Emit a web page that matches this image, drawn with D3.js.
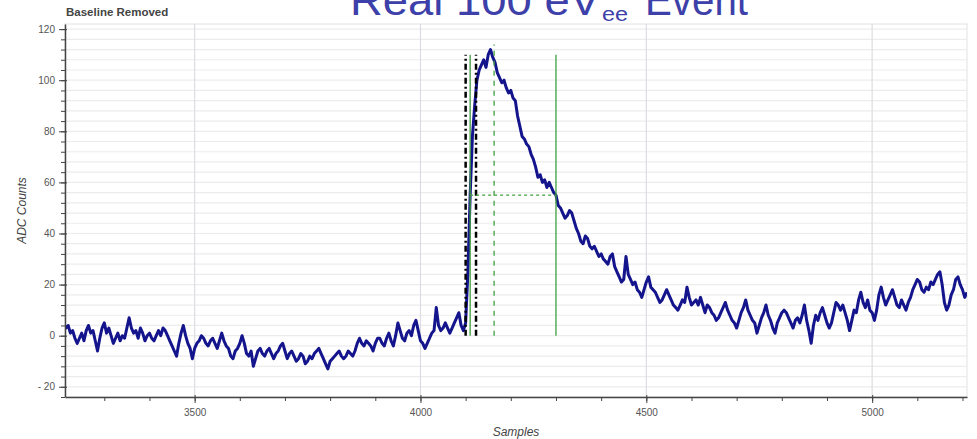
<!DOCTYPE html>
<html lang="en">
<head>
<meta charset="utf-8">
<title>Real 100 eVee Event</title>
<script src="https://d3js.org/d3.v7.min.js"></script>
<style>
  body { margin: 0; background: #fff; }
  .axis text { font-family: "Liberation Sans", Arial, sans-serif; font-size: 10px; fill: #555; }
  .axis path, .axis line { stroke: #444; }
</style>
</head>
<body>
<script>
// waveform: one value every 5 samples, starting at sample 3210
var sampleStart = 3210;
var sampleStep = 5;
var adcCounts = [
  5,3,4,1,2,-1,-3,-1,1,-2,2,4,1,2,-2,-6,-1,3,5,1,
  3,0,-3,-1,1,-2,0,-1,3,7,3,1,2,-1,3,1,-2,0,1,-1,
  -2,0,2,0,3,2,0,-2,-4,-6,-8,-3,1,4,0,-3,-5,-9,-5,-3,
  -2,0,-1,-3,-4,-2,-1,-3,-5,-2,1,-2,-4,-5,-8,-9,-6,-5,-3,0,
  -3,-7,-8,-6,-12,-9,-6,-5,-7,-8,-6,-5,-7,-9,-7,-6,-4,-3,-6,-9,
  -7,-6,-8,-10,-9,-7,-8,-11,-10,-8,-9,-7,-6,-5,-7,-9,-11,-13,-10,-9,
  -8,-7,-6,-8,-9,-8,-6,-7,-8,-6,-3,-1,-3,-4,-2,-3,-4,-6,-3,-1,
  -1,-3,-4,-1,1,-2,-4,0,5,2,-1,-2,1,2,0,4,6,2,-2,-3,
  -5,-3,-1,1,2,11,4,2,3,5,3,1,3,5,7,9,4,2,5,25,
  55,78,90,100,104,106,108,105,110,112,109,107,103,101,99,100,97,95,96,93,
  92,86,82,78,77,75,74,71,69,66,62,63,60,61,58,60,58,56,55,51,
  50,48,46,47,49,48,45,42,40,37,36,39,38,35,34,35,33,31,32,30,
  29,28,31,32,27,25,23,21,22,31,24,22,20,21,18,17,15,18,21,23,
  19,18,17,15,13,14,16,18,16,14,12,11,10,12,14,13,19,15,12,13,
  14,12,15,12,9,12,11,9,8,6,7,9,11,13,10,8,6,5,3,6,
  9,11,14,10,8,6,5,1,4,7,9,12,8,6,3,1,5,7,9,10,
  9,7,5,3,6,7,5,8,12,6,2,-3,4,8,6,9,11,8,5,3,
  5,9,13,12,10,12,9,6,2,6,10,9,14,17,13,11,14,10,9,6,
  10,16,19,15,12,14,16,18,15,12,11,14,12,10,13,15,18,20,22,21,
  18,17,19,18,21,20,22,24,25,20,13,10,12,16,18,22,23,20,18,15,17
];

var xTicks = [3500, 4000, 4500, 5000];
var yTicks = [-20, 0, 20, 40, 60, 80, 100, 120];

// pulse markers (sample positions and levels)
var dashDotMarks = [4100, 4123];
var solidMarks = [4110, 4300];
var peakSample = 4163;
var markTop = 110;
var peakTop = 114;
var halfLevel = 55;

var w = 977, h = 439;
var margin = {left: 65, right: 10, top: 24, bottom: 42};

var svg = d3.select("body").append("svg").attr("width", w).attr("height", h);

var xScale = d3.scaleLinear().domain([3213, 5210]).range([margin.left, w - margin.right]);
var yScale = d3.scaleLinear().domain([-24, 122]).range([h - margin.bottom, margin.top]);

var x0 = margin.left, x1 = w - margin.right, y0 = h - margin.bottom, y1 = margin.top;

// plot frame
svg.append("rect").attr("x", x0).attr("y", y1).attr("width", x1 - x0).attr("height", y0 - y1)
  .attr("fill", "#fff").attr("stroke", "#e2e2e2");

// grid: horizontal every 4, vertical at majors
var hGrid = d3.range(-20, 122, 4);
svg.append("g").selectAll("line").data(hGrid).enter().append("line")
  .attr("x1", x0).attr("x2", x1)
  .attr("y1", d => yScale(d)).attr("y2", d => yScale(d))
  .attr("stroke", "#ececec").attr("stroke-width", 1.2);
svg.append("g").selectAll("line").data(xTicks).enter().append("line")
  .attr("x1", d => xScale(d)).attr("x2", d => xScale(d))
  .attr("y1", y1).attr("y2", y0)
  .attr("stroke", "#dcdce3").attr("stroke-width", 1.2);

svg.append("clipPath").attr("id", "clip").append("rect")
  .attr("x", x0).attr("y", y1).attr("width", x1 - x0).attr("height", y0 - y1);

// waveform
var line = d3.line()
  .x((d, i) => xScale(sampleStart + i * sampleStep))
  .y(d => yScale(d));
svg.append("path").datum(adcCounts).attr("clip-path", "url(#clip)")
  .attr("d", line).attr("fill", "none")
  .attr("stroke", "#14148c").attr("stroke-width", 3).attr("stroke-linejoin", "round");

// markers
var marks = svg.append("g");
marks.selectAll(".dd").data(dashDotMarks).enter().append("line")
  .attr("x1", d => xScale(d)).attr("x2", d => xScale(d))
  .attr("y1", yScale(0)).attr("y2", yScale(markTop))
  .attr("stroke", "#000").attr("stroke-width", 2.5).attr("stroke-dasharray", "6,3,2,3");
marks.selectAll(".sl").data(solidMarks).enter().append("line")
  .attr("x1", d => xScale(d)).attr("x2", d => xScale(d))
  .attr("y1", yScale(0)).attr("y2", yScale(markTop))
  .attr("stroke", "#3f9f3f").attr("stroke-width", 1.3);
marks.append("line")
  .attr("x1", xScale(peakSample)).attr("x2", xScale(peakSample))
  .attr("y1", yScale(0)).attr("y2", yScale(peakTop))
  .attr("stroke", "#3f9f3f").attr("stroke-width", 1.3).attr("stroke-dasharray", "5,5");
marks.append("line")
  .attr("x1", xScale(solidMarks[0])).attr("x2", xScale(solidMarks[1]))
  .attr("y1", yScale(halfLevel)).attr("y2", yScale(halfLevel))
  .attr("stroke", "#3f9f3f").attr("stroke-width", 1.2).attr("stroke-dasharray", "3,3");

// axes
var yAxis = svg.append("g").attr("class", "axis").attr("transform", "translate(" + x0 + ",0)")
  .call(d3.axisLeft(yScale).tickValues(yTicks).tickSize(6).tickSizeOuter(0).tickPadding(4)
    .tickFormat(d => d < 0 ? "- " + (-d) : d));
yAxis.selectAll(".tick line").attr("x1", 2);
svg.append("g").attr("class", "axis").attr("transform", "translate(" + x0 + ",0)")
  .call(d3.axisLeft(yScale).tickValues(d3.range(-24, 122, 4)).tickSize(4).tickFormat(""))
  .select(".domain").remove();

var xAxis = svg.append("g").attr("class", "axis").attr("transform", "translate(0," + y0 + ")")
  .call(d3.axisBottom(xScale).tickValues(xTicks).tickSize(6).tickSizeOuter(0).tickPadding(6)
    .tickFormat(d3.format("d")));
xAxis.selectAll(".tick line").attr("y1", -2);
svg.append("g").attr("class", "axis").attr("transform", "translate(0," + y0 + ")")
  .call(d3.axisBottom(xScale).tickValues(d3.range(3300, 5201, 100)).tickSize(4).tickFormat(""))
  .select(".domain").remove();
svg.selectAll(".axis .domain").attr("stroke-width", 1.5);

// labels
svg.append("text").attr("x", (x0 + x1) / 2).attr("y", 436).attr("text-anchor", "middle")
  .attr("font-family", "Liberation Sans, Arial, sans-serif").attr("font-size", 12)
  .attr("font-style", "italic").attr("fill", "#444").text("Samples");
svg.append("text").attr("transform", "translate(26," + ((y0 + y1) / 2) + ") rotate(-90)")
  .attr("text-anchor", "middle")
  .attr("font-family", "Liberation Sans, Arial, sans-serif").attr("font-size", 12)
  .attr("font-style", "italic").attr("fill", "#444").text("ADC Counts");
svg.append("text").attr("x", 66).attr("y", 16)
  .attr("font-family", "Liberation Sans, Arial, sans-serif").attr("font-size", 11.5)
  .attr("font-weight", "bold").attr("fill", "#444").text("Baseline Removed");

// big title, partly cut by the top edge as in the source image
var tf = "Liberation Sans, Arial, sans-serif";
svg.append("text").attr("x", 350).attr("y", 15).attr("font-family", tf).attr("font-size", 42)
  .attr("fill", "#3c40a8").attr("textLength", 250).attr("lengthAdjust", "spacingAndGlyphs")
  .text("Real 100 eV");
svg.append("text").attr("x", 602).attr("y", 21).attr("font-family", tf).attr("font-size", 20)
  .attr("fill", "#3c40a8").attr("textLength", 26).attr("lengthAdjust", "spacingAndGlyphs")
  .text("ee");
svg.append("text").attr("x", 645).attr("y", 15).attr("font-family", tf).attr("font-size", 42)
  .attr("fill", "#3c40a8").attr("textLength", 103).attr("lengthAdjust", "spacingAndGlyphs")
  .text("Event");
</script>
</body>
</html>
